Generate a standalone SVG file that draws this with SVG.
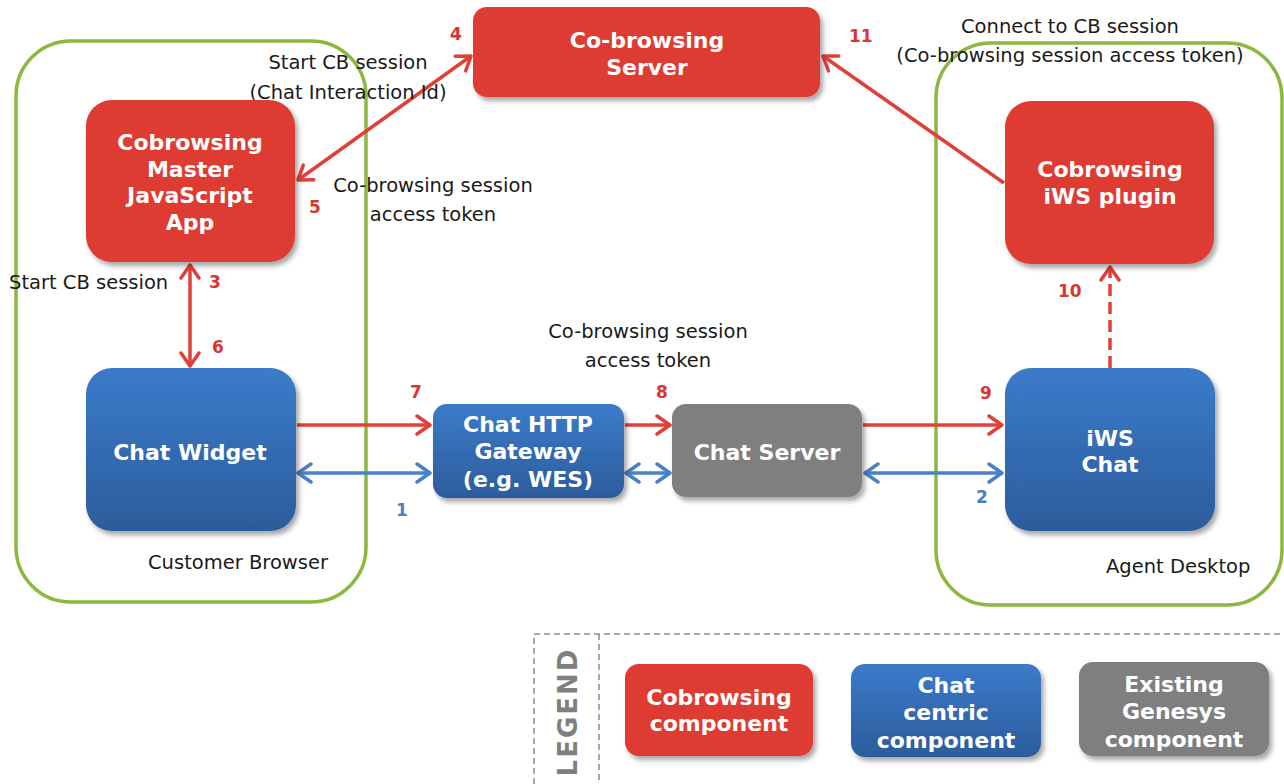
<svg xmlns="http://www.w3.org/2000/svg" width="1284" height="784" viewBox="0 0 1284 784">
  <defs>
    <linearGradient id="blueFill" x1="0" y1="0" x2="0" y2="1">
      <stop offset="0" stop-color="#3B7BCA"/>
      <stop offset="1" stop-color="#2C5C9C"/>
    </linearGradient>
    <filter id="shadow" x="-10%" y="-10%" width="125%" height="130%">
      <feGaussianBlur in="SourceAlpha" stdDeviation="2.5"/>
      <feOffset dx="3" dy="4" result="b"/>
      <feComponentTransfer><feFuncA type="linear" slope="0.35"/></feComponentTransfer>
      <feMerge><feMergeNode/><feMergeNode in="SourceGraphic"/></feMerge>
    </filter>
    <marker id="headRed" viewBox="-16 -11 18 22" refX="0" refY="0" markerWidth="18" markerHeight="22" markerUnits="userSpaceOnUse" orient="auto-start-reverse">
      <path d="M-13,-9 L0,0 L-13,9" fill="none" stroke="#E0403A" stroke-width="3.5" stroke-linecap="round" stroke-linejoin="round"/>
    </marker>
    <marker id="headBlue" viewBox="-16 -11 18 22" refX="0" refY="0" markerWidth="18" markerHeight="22" markerUnits="userSpaceOnUse" orient="auto-start-reverse">
      <path d="M-13,-9 L0,0 L-13,9" fill="none" stroke="#4A80C5" stroke-width="3.5" stroke-linecap="round" stroke-linejoin="round"/>
    </marker>
    <style>
      .zone { fill: none; stroke: #8DB840; stroke-width: 3.5; }
      .red { fill: #DE3B33; filter: url(#shadow); }
      .blue { fill: url(#blueFill); filter: url(#shadow); }
      .grey { fill: #7F7F7F; filter: url(#shadow); }
      .nlabel { font-family: "DejaVu Sans", Verdana, sans-serif; font-weight: bold; font-size: 22px; fill: #FFFFFF; text-anchor: middle; }
      .note { font-family: "DejaVu Sans", Verdana, sans-serif; font-size: 19.5px; fill: #1A1A1A; }
      .mid { text-anchor: middle; }
      .num { font-family: "DejaVu Sans", Verdana, sans-serif; font-weight: bold; font-size: 17px; }
      .numR { fill: #D9362E; }
      .numB { fill: #4A7EC4; }
      .lr { fill: none; stroke: #E0403A; stroke-width: 3.5; }
      .lb { fill: none; stroke: #4A80C5; stroke-width: 3.5; }
      .legendFrame { fill: none; stroke: #8C8C8C; stroke-width: 1.5; stroke-dasharray: 6 4; }
    </style>
  </defs>

  <rect width="1284" height="784" fill="#FFFFFF"/>

  <!-- boundaries -->
  <g id="customer-browser">
    <rect class="zone" x="16" y="41" width="350" height="561" rx="55"/>
    <text class="note" x="148" y="569">Customer Browser</text>
  </g>
  <g id="agent-desktop">
    <rect class="zone" x="936" y="43" width="346" height="562" rx="55"/>
    <text class="note" x="1106" y="573">Agent Desktop</text>
  </g>

  <!-- connectors -->
  <g id="connectors">
    <line class="lr" x1="298" y1="180" x2="471" y2="56" marker-start="url(#headRed)" marker-end="url(#headRed)"/>
    <line class="lr" x1="1004" y1="183" x2="823" y2="56" marker-end="url(#headRed)"/>
    <line class="lr" x1="190" y1="265" x2="190" y2="366" marker-start="url(#headRed)" marker-end="url(#headRed)"/>
    <line class="lr" x1="1110" y1="368" x2="1110" y2="267" stroke-dasharray="12 6" marker-end="url(#headRed)"/>
    <line class="lr" x1="297" y1="425" x2="430" y2="425" marker-end="url(#headRed)"/>
    <line class="lr" x1="625" y1="425" x2="670" y2="425" marker-end="url(#headRed)"/>
    <line class="lr" x1="863" y1="425" x2="1002" y2="425" marker-end="url(#headRed)"/>
    <line class="lb" x1="298" y1="473" x2="430" y2="473" marker-start="url(#headBlue)" marker-end="url(#headBlue)"/>
    <line class="lb" x1="626" y1="473" x2="670" y2="473" marker-start="url(#headBlue)" marker-end="url(#headBlue)"/>
    <line class="lb" x1="865" y1="473" x2="1002" y2="473" marker-start="url(#headBlue)" marker-end="url(#headBlue)"/>

    <text class="num numR" x="450" y="40">4</text>
    <text class="num numR" x="849" y="42">11</text>
    <text class="num numR" x="309" y="213">5</text>
    <text class="num numR" x="209" y="288">3</text>
    <text class="num numR" x="212" y="353">6</text>
    <text class="num numR" x="410" y="398">7</text>
    <text class="num numR" x="656" y="398">8</text>
    <text class="num numR" x="980" y="399">9</text>
    <text class="num numR" x="1058" y="297">10</text>
    <text class="num numB" x="396" y="516">1</text>
    <text class="num numB" x="976" y="503">2</text>

    <text class="note mid" x="348" y="69">Start CB session</text>
    <text class="note mid" x="348" y="99">(Chat Interaction Id)</text>
    <text class="note mid" x="433" y="192">Co-browsing session</text>
    <text class="note mid" x="433" y="221">access token</text>
    <text class="note" x="9" y="289">Start CB session</text>
    <text class="note mid" x="648" y="338">Co-browsing session</text>
    <text class="note mid" x="648" y="367">access token</text>
    <text class="note mid" x="1070" y="33">Connect to CB session</text>
    <text class="note mid" x="1070" y="62">(Co-browsing session access token)</text>
  </g>

  <!-- components -->
  <g id="cobrowsing-server">
    <rect class="red" x="473" y="7" width="347" height="90" rx="14"/>
    <text class="nlabel" x="647" y="48">Co-browsing</text>
    <text class="nlabel" x="647" y="75">Server</text>
  </g>
  <g id="cobrowsing-master-app">
    <rect class="red" x="86" y="100" width="209" height="162" rx="26"/>
    <text class="nlabel" x="190" y="150">Cobrowsing</text>
    <text class="nlabel" x="190" y="177">Master</text>
    <text class="nlabel" x="190" y="203">JavaScript</text>
    <text class="nlabel" x="190" y="230">App</text>
  </g>
  <g id="cobrowsing-iws-plugin">
    <rect class="red" x="1005" y="101" width="209" height="163" rx="26"/>
    <text class="nlabel" x="1110" y="177">Cobrowsing</text>
    <text class="nlabel" x="1110" y="204">iWS plugin</text>
  </g>
  <g id="chat-widget">
    <rect class="blue" x="86" y="368" width="210" height="163" rx="26"/>
    <text class="nlabel" x="190" y="460">Chat Widget</text>
  </g>
  <g id="chat-http-gateway">
    <rect class="blue" x="433" y="404" width="191" height="94" rx="14"/>
    <text class="nlabel" x="528" y="432">Chat HTTP</text>
    <text class="nlabel" x="528" y="459">Gateway</text>
    <text class="nlabel" x="528" y="487">(e.g. WES)</text>
  </g>
  <g id="chat-server">
    <rect class="grey" x="672" y="404" width="190" height="93" rx="14"/>
    <text class="nlabel" x="767" y="460">Chat Server</text>
  </g>
  <g id="iws-chat">
    <rect class="blue" x="1005" y="368" width="210" height="163" rx="26"/>
    <text class="nlabel" x="1110" y="446">iWS</text>
    <text class="nlabel" x="1110" y="472">Chat</text>
  </g>

  <!-- legend -->
  <g id="legend">
    <rect class="legendFrame" x="534" y="634" width="800" height="200"/>
    <line class="legendFrame" x1="599" y1="634" x2="599" y2="784"/>
    <text x="0" y="0" transform="translate(577,712) rotate(-90)" font-family="DejaVu Sans, Verdana, sans-serif" font-weight="bold" font-size="26" letter-spacing="2" fill="#7F7F7F" text-anchor="middle">LEGEND</text>
    <g id="legend-cobrowsing">
      <rect class="red" x="625" y="664" width="188" height="92" rx="14"/>
      <text class="nlabel" x="719" y="705">Cobrowsing</text>
      <text class="nlabel" x="719" y="731">component</text>
    </g>
    <g id="legend-chat">
      <rect class="blue" x="851" y="664" width="190" height="93" rx="14"/>
      <text class="nlabel" x="946" y="693">Chat</text>
      <text class="nlabel" x="946" y="720">centric</text>
      <text class="nlabel" x="946" y="748">component</text>
    </g>
    <g id="legend-genesys">
      <rect class="grey" x="1079" y="662" width="190" height="94" rx="14"/>
      <text class="nlabel" x="1174" y="692">Existing</text>
      <text class="nlabel" x="1174" y="719">Genesys</text>
      <text class="nlabel" x="1174" y="747">component</text>
    </g>
  </g>
</svg>
